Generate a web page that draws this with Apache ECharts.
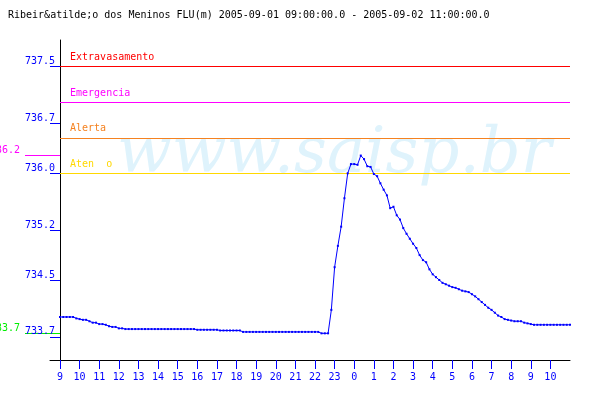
<!DOCTYPE html>
<html><head><meta charset="utf-8">
<script src="https://cdn.jsdelivr.net/npm/echarts@6/dist/echarts.min.js"></script>
<style>html,body{margin:0;padding:0;background:#fff}#c{width:600px;height:400px}</style>
</head><body><div id="c"></div>
<script>
const chartTitle = 'Ribeir&atilde;o dos Meninos FLU(m) 2005-09-01 09:00:00.0 - 2005-09-02 11:00:00.0';
const stepMinutes = 10;
const levels = [
  733.98, 733.98, 733.98, 733.98, 733.98, 733.96, 733.95, 733.94, 733.94, 733.92,
  733.90, 733.90, 733.88, 733.88, 733.87, 733.85, 733.84, 733.84, 733.82, 733.82,
  733.81, 733.81, 733.81, 733.81, 733.81, 733.81, 733.81, 733.81, 733.81, 733.81,
  733.81, 733.81, 733.81, 733.81, 733.81, 733.81, 733.81, 733.81, 733.81, 733.81,
  733.81, 733.81, 733.80, 733.80, 733.80, 733.80, 733.80, 733.80, 733.80, 733.79,
  733.79, 733.79, 733.79, 733.79, 733.79, 733.79, 733.77, 733.77, 733.77, 733.77,
  733.77, 733.77, 733.77, 733.77, 733.77, 733.77, 733.77, 733.77, 733.77, 733.77,
  733.77, 733.77, 733.77, 733.77, 733.77, 733.77, 733.77, 733.77, 733.77, 733.77,
  733.75, 733.75, 733.75, 734.08, 734.68, 734.98, 735.25, 735.65, 736.00, 736.13,
  736.13, 736.12, 736.25, 736.20, 736.10, 736.09, 735.99, 735.96, 735.86, 735.77,
  735.69, 735.51, 735.53, 735.41, 735.35, 735.23, 735.15, 735.08, 735.01, 734.95,
  734.85, 734.78, 734.75, 734.65, 734.58, 734.54, 734.50, 734.46, 734.44, 734.42,
  734.40, 734.39, 734.37, 734.35, 734.34, 734.33, 734.30, 734.27, 734.23, 734.19,
  734.15, 734.11, 734.08, 734.04, 734.00, 733.98, 733.95, 733.94, 733.93, 733.92,
  733.92, 733.92, 733.90, 733.89, 733.88, 733.87, 733.87, 733.87, 733.87, 733.87,
  733.87, 733.87, 733.87, 733.87, 733.87, 733.87, 733.87
];
const xTickLabels = ['9','10','11','12','13','14','15','16','17','18','19','20','21','22','23','0','1','2','3','4','5','6','7','8','9','10'];
const yTickValues = [733.7, 734.5, 735.2, 736.0, 736.7, 737.5];
const thresholdNames = ['Extravasamento', 'Emergencia', 'Alerta', 'Aten  o'];
const thresholdValues = [737.5, 737.0, 736.5, 736.0];
const watermarkText = 'www.saisp.br';

const thresholdColors = ['#ff0000', '#ff00ff', '#f58220', '#ffd800'];
const FONT = '"DejaVu Sans Mono", monospace';
const spanHours = 26;
const yMin = 733.375, yMax = 737.875;

const seriesData = levels.map((v, i) => [i * stepMinutes / 60, v]);
const maxV = Math.max(...levels);
const minV = Math.min(...levels);
const trunc1 = v => (Math.floor(v * 10 + 1e-6) / 10).toFixed(1);
const xTickPositions = xTickLabels.map((_, i) => i);

const markerAxis = (value, color) => ({
  type: 'value', position: 'left', offset: 25, min: yMin, max: yMax,
  axisLine: { show: false },
  splitLine: { show: false },
  axisTick: { show: true, inside: true, length: 35, customValues: [value], lineStyle: { color: color, width: 1 } },
  axisLabel: { show: true, customValues: [value], margin: 5, verticalAlign: 'bottom', color: color,
    fontFamily: FONT, fontSize: 10, formatter: v => trunc1(v) }
});

const chart = echarts.init(document.getElementById('c'), null, { renderer: 'canvas' });
chart.setOption({
  animation: false,
  backgroundColor: '#ffffff',
  title: { text: chartTitle, left: 3, top: 5,
    textStyle: { fontFamily: FONT, fontSize: 10, fontWeight: 'normal', color: '#000000' } },
  graphic: [{
    type: 'text', left: 117, top: 123, z: 0, silent: true,
    style: { text: watermarkText, font: 'italic 64px "DejaVu Serif", serif', fill: '#dff3fc' }
  }],
  grid: { left: 50, right: 30, top: 40, bottom: 40, containLabel: false, outerBoundsMode: 'none' },
  xAxis: {
    type: 'value', min: -0.51, max: spanHours,
    axisLine: { show: true, lineStyle: { color: '#000000', width: 1 } },
    splitLine: { show: false },
    axisTick: { show: true, length: 9, customValues: xTickPositions, lineStyle: { color: '#0000ff', width: 1 } },
    axisLabel: { show: true, customValues: xTickPositions, margin: 12, color: '#0000ff',
      fontFamily: FONT, fontSize: 10, formatter: v => xTickLabels[Math.round(v)] }
  },
  yAxis: [{
    type: 'value', min: yMin, max: yMax, offset: -10,
    axisLine: { show: true, lineStyle: { color: '#000000', width: 1 } },
    splitLine: { show: false },
    axisTick: { show: true, length: 10, customValues: yTickValues, lineStyle: { color: '#0000ff', width: 1 } },
    axisLabel: { show: true, customValues: yTickValues, margin: 5, verticalAlign: 'bottom', color: '#0000ff',
      fontFamily: FONT, fontSize: 10, formatter: v => trunc1(v) }
  }, markerAxis(maxV, '#ff00ff'), markerAxis(minV, '#00ee00')],
  series: [{
    type: 'line', data: seriesData, yAxisIndex: 0, z: 5,
    symbol: 'rect', symbolSize: 2, showAllSymbol: true,
    lineStyle: { color: '#0000ff', width: 1 },
    itemStyle: { color: '#0000ff' },
    markLine: {
      silent: true, symbol: 'none', animation: false,
      data: thresholdValues.map((v, i) => [
        { coord: [0, v], lineStyle: { color: thresholdColors[i], width: 1, type: 'solid' },
          label: { show: true, position: 'insideStartTop', formatter: thresholdNames[i], color: thresholdColors[i],
            fontFamily: FONT, fontSize: 10, distance: 4, padding: [0, 0, 0, 6] } },
        { coord: [spanHours, v] }
      ])
    }
  }]
});
</script>
</body></html>
